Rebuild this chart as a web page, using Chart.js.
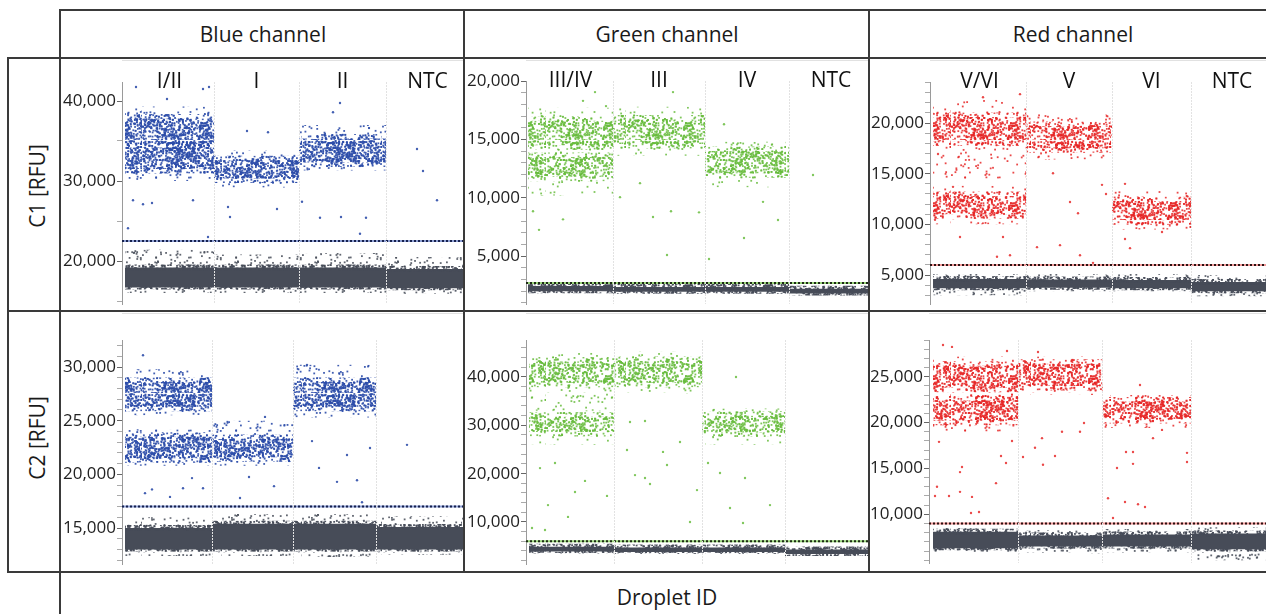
<!DOCTYPE html>
<html>
<head>
<meta charset="utf-8">
<script src="https://cdn.jsdelivr.net/npm/chart.js@4.4.1/dist/chart.umd.min.js"></script>
<style>
body{margin:0;width:1266px;height:614px;overflow:hidden;background:#fff;font-family:"Open Sans",sans-serif;color:#1a1a1a;position:relative}
.ln{position:absolute;background:#3a3a3a}
.txt{position:absolute;font-size:21px;text-align:center;white-space:nowrap;height:30px;line-height:30px}
.rot{transform:rotate(-90deg)}
canvas{position:absolute}
</style>
</head>
<body>
<!-- table lines -->
<div class="ln" style="left:60px;top:9px;width:1206px;height:2px"></div>
<div class="ln" style="left:8px;top:57px;width:1258px;height:2px"></div>
<div class="ln" style="left:8px;top:310px;width:1258px;height:2px"></div>
<div class="ln" style="left:8px;top:571px;width:1258px;height:2px"></div>
<div class="ln" style="left:59px;top:9px;width:2px;height:605px"></div>
<div class="ln" style="left:7px;top:57px;width:2px;height:516px"></div>
<div class="ln" style="left:463px;top:9px;width:2px;height:564px"></div>
<div class="ln" style="left:868px;top:9px;width:2px;height:564px"></div>

<div class="txt" style="left:113px;top:19px;width:300px">Blue channel</div>
<div class="txt" style="left:517px;top:19px;width:300px">Green channel</div>
<div class="txt" style="left:923px;top:19px;width:300px">Red channel</div>
<div class="txt rot" style="left:-23px;top:171px;width:120px">C1 [RFU]</div>
<div class="txt rot" style="left:-23px;top:423px;width:120px">C2 [RFU]</div>
<div class="txt" style="left:517px;top:582px;width:300px">Droplet ID</div>

<canvas id="b1" width="401" height="250" style="left:62px;top:60px"></canvas>
<canvas id="g1" width="402" height="250" style="left:466px;top:60px"></canvas>
<canvas id="r1" width="395" height="250" style="left:871px;top:60px"></canvas>
<canvas id="b2" width="401" height="258" style="left:62px;top:313px"></canvas>
<canvas id="g2" width="402" height="258" style="left:466px;top:313px"></canvas>
<canvas id="r2" width="395" height="258" style="left:871px;top:313px"></canvas>

<script>
// well names per channel
const blueLabels = ['I/II', 'I', 'II', 'NTC'];
const greenLabels = ['III/IV', 'III', 'IV', 'NTC'];
const redLabels = ['V/VI', 'V', 'VI', 'NTC'];

// well borders in droplet ID (start of each well + end of last one)
const blueC1Wells = [0, 5340, 10440, 15660, 20640];
const blueC2Wells = [0, 5220, 10080, 15060, 20640];
const greenC1Wells = [0, 5100, 10620, 15660, 20700];
const greenC2Wells = [0, 5100, 10380, 15360, 20700];
const redC1Wells = [0, 5580, 10740, 15480, 20400];
const redC2Wells = [0, 5100, 10200, 15480, 20400];

// clusters: [well, outer low, core low, core high, outer high] in RFU
const blueC1Pos = [[0, 34000, 34600, 37800, 39300], [0, 30000, 31500, 34200, 35000], [1, 29200, 30300, 32600, 33800], [2, 31300, 32300, 35300, 37000]];
const blueC1Neg = [[0, 16000, 16700, 19200, 21400], [1, 16000, 16700, 19200, 20800], [2, 16000, 16700, 19200, 21000], [3, 15900, 16600, 19000, 20500]];
const blueC2Pos = [[0, 25500, 26300, 28600, 29800], [0, 20800, 21500, 23500, 24200], [1, 20800, 21600, 23300, 25000], [2, 25300, 26300, 28600, 30200]];
const blueC2Neg = [[0, 12400, 13000, 15000, 16000], [1, 12400, 13000, 15400, 16300], [2, 12300, 13000, 15400, 16300], [3, 12500, 13000, 15100, 16100]];
const greenC1Pos = [[0, 13800, 14500, 16600, 17700], [0, 10200, 11800, 13500, 14000], [1, 13600, 14600, 16700, 17800], [2, 10900, 12100, 14000, 14800]];
const greenC1Neg = [[0, 1900, 2000, 2450, 2600], [1, 1850, 1950, 2350, 2550], [2, 1850, 1950, 2350, 2550], [3, 1700, 1800, 2200, 2400]];
const greenC2Pos = [[0, 33000, 38800, 43200, 45000], [0, 26000, 28600, 31800, 32800], [1, 36500, 38800, 43300, 45200], [2, 26000, 28500, 32000, 33500]];
const greenC2Neg = [[0, 3700, 3900, 4900, 5200], [1, 3600, 3800, 4700, 5000], [2, 3600, 3800, 4700, 5000], [3, 3200, 3400, 4300, 4600]];
const redC1Pos = [[0, 14500, 18200, 20600, 22300], [0, 10000, 11000, 12800, 13800], [1, 16400, 17500, 19700, 20900], [2, 9500, 10400, 12300, 13300]];
const redC1Neg = [[0, 3000, 3700, 4600, 5100], [1, 3400, 3750, 4550, 5100], [2, 3400, 3700, 4500, 5100], [3, 2900, 3400, 4300, 5000]];
const redC2Pos = [[0, 22500, 23800, 26200, 27200], [0, 19000, 20200, 22400, 23500], [1, 23000, 24000, 26400, 27200], [2, 19400, 20400, 22300, 23000]];
const redC2Neg = [[0, 5900, 6300, 8100, 8500], [1, 5700, 6500, 7700, 8300], [2, 5800, 6500, 7800, 8400], [3, 5000, 6200, 7900, 8600]];

// single droplets outside the clusters: [droplet ID, RFU]
const blueC1Out = [[660,41750],[2520,40250],[4680,41500],[5040,41750],[480,27600],[1080,27100],[1620,27250],[180,24100],[4980,23000],[4080,27600],[6180,26750],[7320,36250],[8580,36100],[6300,25500],[9120,26500],[12900,39750],[12480,38600],[11700,25400],[12960,25500],[14460,25400],[14100,23400],[10620,27400],[17520,34000],[17880,31250],[18720,27600]];
const blueC2Out = [[1080,31100],[1200,18250],[1620,18600],[2700,17900],[3480,18700],[4680,18700],[4020,19650],[6900,17800],[7440,19750],[8940,18900],[8400,25350],[11220,23100],[11640,20600],[12720,19300],[13320,21800],[13920,19450],[14700,22450],[14220,17400],[16920,22750],[10920,30200]];
const greenC1Out = [[300,8850],[660,7250],[2100,8150],[3300,18300],[4020,19050],[4680,17850],[7500,8350],[8340,5100],[8580,8850],[8700,19050],[10260,8750],[10860,4750],[11760,16300],[12960,6550],[14100,9650],[15000,8100],[17100,11950],[6720,11250],[5520,10050]];
const greenC2Out = [[180,8750],[960,8350],[1140,13500],[2340,11050],[660,21150],[1560,22200],[2760,16200],[3360,18500],[4680,15400],[5880,24900],[6360,19700],[6960,19100],[7260,17850],[6060,30700],[6960,30900],[8040,24500],[8280,21800],[9060,26550],[9660,10000],[10080,16600],[10740,22200],[11460,20150],[12060,12900],[12420,40000],[12960,19100],[12840,9800],[14460,13500]];
const redC1Out = [[300,16950],[120,10450],[1200,13700],[1620,8750],[3000,22550],[3840,6800],[4200,8750],[4620,6950],[5220,22850],[6240,7750],[7200,15050],[7620,7950],[8220,12200],[8820,6950],[8700,11100],[9600,6200],[10140,13900],[11520,14000],[11820,7650],[11520,8550],[13740,9250],[14820,10250],[10380,13000]];
const redC2Out = [[600,28450],[1140,28250],[240,13000],[120,12000],[360,17900],[960,12000],[1620,14600],[1740,15150],[1620,12450],[2340,11900],[2280,10150],[2760,10250],[3780,13400],[4080,16350],[4380,15600],[4440,27800],[4740,18000],[5400,16250],[6120,17250],[6300,27700],[6540,18300],[6600,15400],[7320,16350],[7740,19000],[8820,19000],[9060,19950],[10500,11750],[10800,9600],[11040,15050],[11520,11350],[11580,16800],[12000,15500],[12000,16800],[12300,11100],[12420,24100],[12720,10800],[13200,18300],[13740,19200],[15240,16700],[15240,15700]];

// thresholds
const blueC1Thr = 22500, blueC2Thr = 17000;
const greenC1Thr = 2700, greenC2Thr = 6000;
const redC1Thr = 6000, redC2Thr = 9000;

// labelled y ticks
const blueC1YLabels = [20000, 30000, 40000];
const blueC2YLabels = [15000, 20000, 25000, 30000];
const greenC1YLabels = [5000, 10000, 15000, 20000];
const greenC2YLabels = [10000, 20000, 30000, 40000];
const redC1YLabels = [5000, 10000, 15000, 20000];
const redC2YLabels = [10000, 15000, 20000, 25000];

const gray = '#474c58';
const styles = {
    blue: {dot: 'rgba(45,78,170,0.9)', core: 1700, edge: 700, halo: 190, thr: '#8fa0d4', dash: '#16214d'},
    green: {dot: 'rgba(104,188,62,0.85)', core: 1250, edge: 520, halo: 130, thr: '#9ad67a', dash: '#1d2a16'},
    red: {dot: 'rgba(230,40,40,0.85)', core: 1350, edge: 560, halo: 130, thr: '#f29a9a', dash: '#2a1212'}
};

const panels = [
    {id: 'b1', color: 'blue', labels: blueLabels, wells: blueC1Wells, pos: blueC1Pos, neg: blueC1Neg, out: blueC1Out, thr: blueC1Thr, yLabels: blueC1YLabels, minor: 5000, yMin: 14625, yMax: 42375, xMin: -180, xMax: 20280, yW: 60, padT: 22, padB: 6},
    {id: 'g1', color: 'green', labels: greenLabels, wells: greenC1Wells, pos: greenC1Pos, neg: greenC1Neg, out: greenC1Out, thr: greenC1Thr, yLabels: greenC1YLabels, minor: 1000, yMin: 900, yMax: 20000, xMin: -120, xMax: 20400, yW: 60, padT: 21, padB: 6},
    {id: 'r1', color: 'red', labels: redLabels, wells: redC1Wells, pos: redC1Pos, neg: redC1Neg, out: redC1Out, thr: redC1Thr, yLabels: redC1YLabels, minor: 1000, yMin: 2140, yMax: 24050, xMin: -180, xMax: 19980, yW: 59, padT: 22, padB: 6},
    {id: 'b2', color: 'blue', labels: null, wells: blueC2Wells, pos: blueC2Pos, neg: blueC2Neg, out: blueC2Out, thr: blueC2Thr, yLabels: blueC2YLabels, minor: 1000, yMin: 11650, yMax: 32515, xMin: -180, xMax: 20280, yW: 60, padT: 27, padB: 7},
    {id: 'g2', color: 'green', labels: null, wells: greenC2Wells, pos: greenC2Pos, neg: greenC2Neg, out: greenC2Out, thr: greenC2Thr, yLabels: greenC2YLabels, minor: 2000, yMin: 1310, yMax: 47655, xMin: -180, xMax: 20340, yW: 60, padT: 27, padB: 7},
    {id: 'r2', color: 'red', labels: null, wells: redC2Wells, pos: redC2Pos, neg: redC2Neg, out: redC2Out, thr: redC2Thr, yLabels: redC2YLabels, minor: 1000, yMin: 4695, yMax: 29000, xMin: -240, xMax: 19980, yW: 58, padT: 27, padB: 8}
];

Chart.defaults.font.family = '"Open Sans", sans-serif';
Chart.defaults.color = '#1a1a1a';

// dotted texture used to fill a cluster (only a look, not data)
function dotPattern(ctx, color, n) {
    const tile = document.createElement('canvas');
    tile.width = tile.height = 80;
    const t = tile.getContext('2d');
    t.fillStyle = color;
    for (let i = 1; i <= n; i++) {
        const a = Math.sin(i * 12.9898) * 43758.5453;
        const b = Math.sin(i * 78.233) * 24634.6345;
        t.fillRect((a - Math.floor(a)) * 80, (b - Math.floor(b)) * 80, 1.8, 1.8);
    }
    return ctx.createPattern(tile, 'repeat');
}

// filled band between lo and hi; the border (edge pattern) softens its top
function band(x0, x1, lo, hi, fillStyle, order, edge, edgeW) {
    return {
        type: 'line',
        data: [{x: x0, y: hi}, {x: x1, y: hi}],
        fill: {value: lo},
        backgroundColor: fillStyle,
        borderColor: edge || 'rgba(0,0,0,0)',
        borderWidth: edge ? edgeW : 0,
        borderCapStyle: 'butt',
        pointRadius: 0,
        order: order
    };
}

// soft lower edge of a band
function edgeLine(x0, x1, y, edge, edgeW, order) {
    return {
        type: 'line',
        data: [{x: x0, y: y}, {x: x1, y: y}],
        fill: false,
        borderColor: edge,
        borderWidth: edgeW,
        borderCapStyle: 'butt',
        pointRadius: 0,
        order: order
    };
}

function wellLabelPlugin(labels, wells) {
    return {
        id: 'wellLabels',
        afterDraw(chart) {
            if (!labels) return;
            const c = chart.ctx;
            const x = chart.scales.x;
            c.save();
            c.font = '21px "Open Sans", sans-serif';
            c.fillStyle = '#111';
            c.textAlign = 'center';
            c.textBaseline = 'middle';
            labels.forEach((t, i) => {
                c.fillText(t, x.getPixelForValue((wells[i] + wells[i + 1]) / 2), chart.chartArea.top);
            });
            c.restore();
        }
    };
}

function buildChart(p) {
    const ctx = document.getElementById(p.id).getContext('2d');
    const st = styles[p.color];
    const corePat = dotPattern(ctx, st.dot, st.core);
    const edgePat = dotPattern(ctx, st.dot, st.edge);
    const haloPat = dotPattern(ctx, st.dot, st.halo);
    const grayHalo = dotPattern(ctx, 'rgba(71,76,88,0.85)', 260);
    const grayEdge = dotPattern(ctx, 'rgba(71,76,88,0.95)', 1500);
    const datasets = [];

    p.neg.forEach(r => {
        const x0 = p.wells[r[0]], x1 = p.wells[r[0] + 1];
        datasets.push(band(x0, x1, r[1], r[4], grayHalo, 8));
        datasets.push(band(x0, x1, r[2], r[3], gray, 7, grayEdge, 6));
        datasets.push(edgeLine(x0, x1, r[2], grayEdge, 4, 7));
    });
    p.pos.forEach(r => {
        const x0 = p.wells[r[0]], x1 = p.wells[r[0] + 1];
        datasets.push(band(x0, x1, r[1], r[4], haloPat, 6));
        datasets.push(band(x0, x1, r[2], r[3], corePat, 5, edgePat, 9));
        datasets.push(edgeLine(x0, x1, r[2], edgePat, 9, 5));
    });
    datasets.push({
        type: 'line',
        data: p.out.map(o => ({x: o[0], y: o[1]})),
        showLine: false,
        pointRadius: 1.2,
        pointBackgroundColor: st.dot,
        pointBorderWidth: 0,
        order: 3
    });
    // threshold: coloured line under a black dotted one
    const thrData = [{x: p.xMin, y: p.thr}, {x: p.xMax, y: p.thr}];
    datasets.push({type: 'line', data: thrData, borderColor: st.thr, borderWidth: 2, pointRadius: 0, fill: false, order: 1});
    datasets.push({type: 'line', data: thrData, borderColor: st.dash, borderWidth: 2, borderDash: [2, 2], pointRadius: 0, fill: false, order: 0});

    new Chart(ctx, {
        type: 'line',
        data: {datasets: datasets},
        plugins: [wellLabelPlugin(p.labels, p.wells)],
        options: {
            responsive: false,
            animation: false,
            events: [],
            layout: {autoPadding: false, padding: {top: p.padT, bottom: p.padB, left: 0, right: 0}},
            plugins: {legend: {display: false}, tooltip: {enabled: false}},
            scales: {
                x: {
                    type: 'linear',
                    min: p.xMin,
                    max: p.xMax,
                    afterBuildTicks: s => { s.ticks = p.wells.slice(1, 4).map(v => ({value: v})); },
                    afterFit: s => { s.paddingLeft = 0; s.paddingRight = 0; },
                    ticks: {display: false},
                    grid: {color: '#e2e2e2', lineWidth: 1, drawTicks: false, z: 1},
                    border: {color: '#c4c4c4', width: 1, dash: [2, 1]}
                },
                y: {
                    min: p.yMin,
                    max: p.yMax,
                    afterBuildTicks: s => {
                        const t = [];
                        for (let v = Math.ceil(p.yMin / p.minor) * p.minor; v <= p.yMax; v += p.minor) t.push({value: v});
                        s.ticks = t;
                    },
                    afterFit: s => { s.width = p.yW; s.paddingTop = 0; s.paddingBottom = 0; },
                    ticks: {
                        autoSkip: false,
                        padding: 1,
                        font: {size: 17},
                        color: '#222',
                        callback: v => p.yLabels.includes(v) ? v.toLocaleString('en-US') : ''
                    },
                    grid: {
                        drawOnChartArea: false,
                        tickLength: 5,
                        tickColor: c => p.yLabels.includes(c.tick.value) ? '#666' : '#aaa'
                    },
                    border: {color: '#9a9a9a', width: 1}
                }
            }
        }
    });
}

panels.forEach(buildChart);
</script>
</body>
</html>
